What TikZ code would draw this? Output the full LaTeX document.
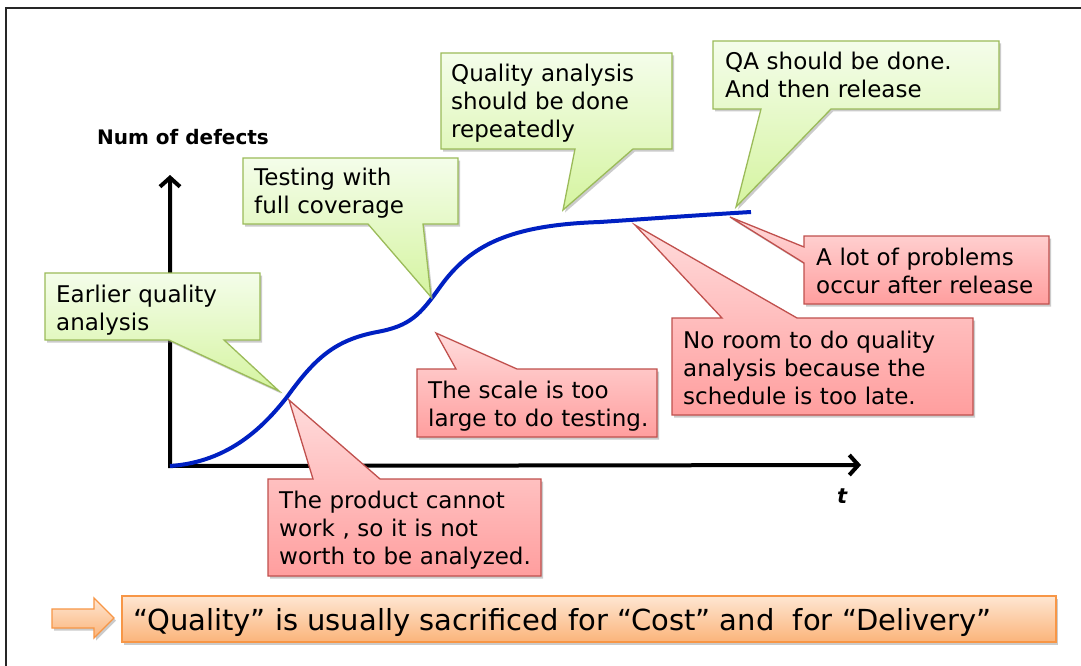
\documentclass[tikz,border=0pt]{standalone}
\usepackage{fontspec}
\setmainfont{DejaVu Sans}
\usetikzlibrary{arrows.meta}
\definecolor{gTop}{HTML}{F4FDEA}
\definecolor{gBot}{HTML}{D5F4A0}
\definecolor{gLine}{HTML}{9BBB59}
\definecolor{rTop}{HTML}{FFDCDC}
\definecolor{rBot}{HTML}{FF9E9E}
\definecolor{rLine}{HTML}{C0504D}
\definecolor{oTop}{HTML}{FEE6D2}
\definecolor{oBot}{HTML}{FBB47A}
\definecolor{oLine}{HTML}{F79646}
\definecolor{curveBlue}{HTML}{0020C2}
\tikzset{
  shadowed/.style={preaction={fill=black!45, opacity=0.45, transform canvas={xshift=2pt,yshift=-2.5pt}}},
  greencall/.style={shadowed, top color=gTop, bottom color=gBot, draw=gLine, line width=1.3pt},
  redcall/.style={shadowed, top color=rTop, bottom color=rBot, draw=rLine, line width=1.3pt},
  orangebox/.style={shadowed, top color=oTop, bottom color=oBot, draw=oLine, line width=1.3pt},
  ct/.style={anchor=base west, inner sep=0pt, text width=400pt, align=left, font=\fontsize{23}{28}\selectfont},
  axisline/.style={line width=4pt, line join=miter, {Straight Barb[length=9pt,width=20pt]}-{Straight Barb[length=9pt,width=20pt]}},
}
\begin{document}
\begin{tikzpicture}[x=1pt,y=-1pt]
\useasboundingbox (0,0) rectangle (1081,666);
\fill[white] (0,0) rectangle (1081,666);
\draw[line width=2pt, black!85] (1081,8) -- (6,8) -- (6,666);

% axes
\coordinate (ytop) at (170,175);
\coordinate (origin) at (170,466);
\coordinate (xend) at (861,465);
\draw[axisline] (ytop) -- (origin) -- (xend);
\node[anchor=base west, inner sep=0pt, font=\bfseries\fontsize{20}{24}\selectfont] (ylab) at (97,145) {Num of defects};
\node[anchor=base west, inner sep=0pt, font=\bfseries\itshape\fontsize{21}{24}\selectfont] (xlab) at (837,503) {t};

% curve
\draw[curveBlue, line width=4pt] (170,466) .. controls (230,462) and (265,425) .. (287,397)
  .. controls (315,358) and (335,340) .. (377,332)
  .. controls (410,326) and (420,315) .. (440,287)
  .. controls (470,245) and (510,225) .. (600,222)
  .. controls (660,218) and (700,215) .. (751,212);

% green callouts
\path[greencall] (45,273) -- (260,273) -- (260,340) -- (224,340) -- (279,391) -- (169,340) -- (45,340) -- cycle;
\path[greencall] (243,158) -- (458,158) -- (458,224) -- (423,224) -- (431,297) -- (368,224) -- (243,224) -- cycle;
\path[greencall] (441,53) -- (672,53) -- (672,149) -- (633,149) -- (563,210) -- (575,149) -- (441,149) -- cycle;
\path[greencall] (713,41) -- (999,41) -- (999,109) -- (831,109) -- (736,207) -- (761,109) -- (713,109) -- cycle;

% red callouts
\path[redcall] (804,236) -- (1049,236) -- (1049,304) -- (804,304) -- (804,263) -- (730,217) -- (804,247) -- cycle;
\path[redcall] (672,318) -- (722,318) -- (635,225) -- (797,318) -- (973,318) -- (973,415) -- (672,415) -- cycle;
\path[redcall] (417,369) -- (456,369) -- (436,333) -- (517,369) -- (657,369) -- (657,437) -- (417,437) -- cycle;
\path[redcall] (268,479) -- (313,479) -- (289,400) -- (380,479) -- (541,479) -- (541,576) -- (268,576) -- cycle;

% texts
\node[ct] (t1) at (56,302) {Earlier quality\\analysis};
\node[ct] (t2) at (254,185) {Testing with\\full coverage};
\node[ct] (t3) at (451,82) {Quality analysis\\should be done\\repeatedly};
\node[ct] (t4) at (725,70) {QA should be done.\\And then release};
\node[ct] (t5) at (816,265) {A lot of problems\\occur after release};
\node[ct] (t6) at (683,348) {No room to do quality\\analysis because the\\schedule is too late.};
\node[ct] (t7) at (428,398) {The scale is too\\large to do testing.};
\node[ct] (t8) at (279,508) {The product cannot\\work , so it is not\\worth to be analyzed.};

% bottom banner
\path[orangebox] (52,609) -- (94,609) -- (94,598) -- (114,618) -- (94,638) -- (94,628) -- (52,628) -- cycle;
\path[orangebox] (122,596) rectangle (1056,642);
\node[anchor=base west, inner sep=0pt, font=\fontsize{29}{32}\selectfont] (msg) at (133,630) {“Quality” is usually sacrificed for “Cost” and\ \ for “Delivery”};
\end{tikzpicture}
\end{document}
